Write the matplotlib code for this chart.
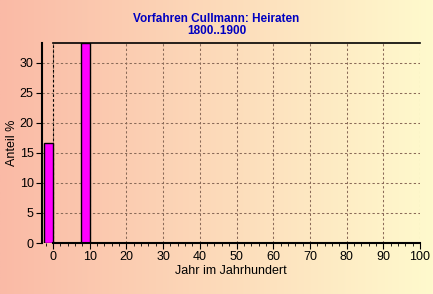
import numpy as np
import matplotlib
matplotlib.use("Agg")
import matplotlib.pyplot as plt
from matplotlib.ticker import MultipleLocator

plt.rcParams['font.family'] = ['Liberation Sans', 'DejaVu Sans']

title = "Vorfahren Cullmann: Heiraten\n1800..1900"
years = [0, 10, 20, 30, 40, 50, 60, 70, 80, 90, 100]
shares = [16.67, 33.33, 0, 0, 0, 0, 0, 0, 0, 0, 0]
xlabel = "Jahr im Jahrhundert"
ylabel = "Anteil %"

W, H = 433, 294
fig = plt.figure(figsize=(W / 100, H / 100), dpi=100)

# background gradient
bg = fig.add_axes([0, 0, 1, 1], zorder=-10)
c1 = np.array([250, 186, 166]) / 255
c2 = np.array([255, 250, 205]) / 255
t = np.linspace(0, 1, 256)
grad = (c1[None, :] * (1 - t[:, None]) + c2[None, :] * t[:, None])[None, :, :]
bg.imshow(grad, aspect='auto', extent=[0, 1, 0, 1])
bg.set_axis_off()

ax = fig.add_axes([42 / W, (H - 243) / H, 378 / W, 200 / H])
ax.patch.set_alpha(0)

edges = ['black' if v > 0 else '#ff00ff' for v in shares]
ax.bar(years, shares, width=-2.5, align='edge', color='#ff00ff',
       edgecolor=edges, linewidth=1.0, zorder=3)

ax.set_xlim(-3, 100)
ax.set_ylim(0, 33.33)
ax.xaxis.set_major_locator(MultipleLocator(10))
ax.xaxis.set_minor_locator(MultipleLocator(2))
ax.yaxis.set_major_locator(MultipleLocator(5))

ax.grid(True, which='major', color='#8a6a58', linestyle=(0, (2.2, 2.2)), linewidth=0.75, zorder=1)

for s in ['top', 'right', 'bottom']:
    ax.spines[s].set_visible(False)
ax.spines['left'].set_linewidth(1.5)
# frame lines from 0 to 100
ax.plot([0, 100], [33.33, 33.33], color='black', lw=1.2, zorder=4, clip_on=False)
ax.plot([0, 100], [0, 0], color='black', lw=1.5, zorder=4, clip_on=False)
ax.plot([0, 0], [0, 33.33], color='black', lw=0.8, linestyle=(0, (2.2, 2.2)), zorder=2)

ax.tick_params(axis='both', which='major', labelsize=9, length=4, width=0.8, color='black', pad=2)
ax.tick_params(axis='x', which='minor', length=2, width=0.6)

ax.set_xlabel(xlabel, fontsize=9, labelpad=1)
ax.set_ylabel(ylabel, fontsize=9, labelpad=1)

fig.text(0.5, 1 - 25 / H, title, ha='center', va='center', fontsize=8.5,
         fontweight='bold', color='#0000c0', linespacing=0.95)

fig.savefig('out.png', dpi=100)
